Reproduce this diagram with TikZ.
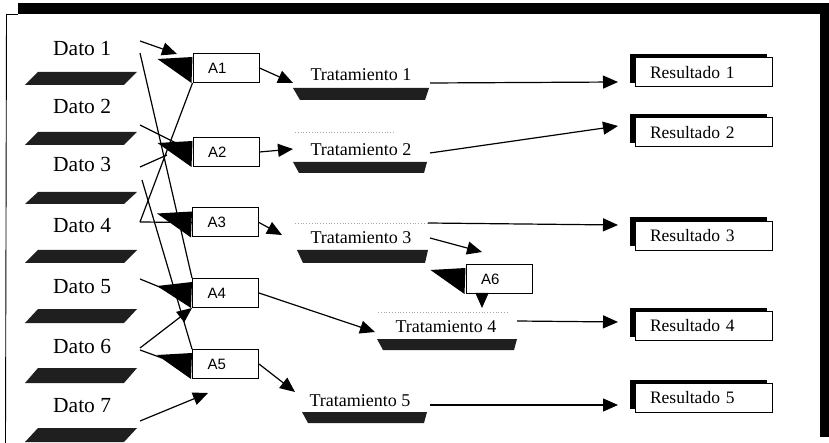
\documentclass[tikz,border=0pt]{standalone}
\usepackage{fontspec}
\setmainfont{Liberation Serif}
\newfontfamily\labelsans{Liberation Sans}
\usetikzlibrary{arrows.meta,shadows,calc,backgrounds}

\begin{document}
\begin{tikzpicture}[x=1pt,y=-1pt,
  datolbl/.style={anchor=west,inner sep=0pt,font=\fontsize{21.5}{23}\selectfont},
  tratlbl/.style={inner sep=1pt,font=\fontsize{18}{20}\selectfont},
  abox/.style={draw,line width=1pt,fill=white,minimum height=29pt,text width=36pt,
    inner xsep=15pt,inner ysep=0pt,align=left,font=\labelsans\fontsize{15}{16}\selectfont},
  resbox/.style={draw,line width=1pt,fill=white,minimum height=29pt,text width=107pt,
    inner xsep=15pt,inner ysep=0pt,align=left,font=\fontsize{17.5}{18}\selectfont,
    general shadow={fill=black,shadow xshift=-5pt,shadow yshift=4pt}},
  band/.style={fill=black!88},
  wire/.style={line width=1.2pt},
  arr/.style={line width=1.2pt,-{Triangle[length=15pt,width=13pt]}},
  faint/.style={gray!70,dotted,line width=0.8pt}
]
\useasboundingbox (0,0) rectangle (829,443);

% frame
\fill (18,3) rectangle (829,14);
\fill (820,3) rectangle (829,437);
\draw[line width=0.9pt] (7,14) -- (18,14);
\draw[line width=0.9pt] (6.5,14) -- (5.5,443);

% data labels and their caption bands
\foreach \i/\y in {1/49,2/106,3/164,4/226,5/287,6/346,7/406}
  \node[datolbl] (d\i) at (53,\y) {Dato \i};
\foreach \t/\b in {72/85,132/145,192/204,250/263,309/323,368/383,428/442}
  \fill[band] (25,\b) -- (38,\t) -- (137,\t) -- (124,\b) -- cycle;

% activity boxes
\node[abox] (a1) at (226,68) {A1};
\node[abox] (a2) at (226,152) {A2};
\node[abox] (a3) at (225.5,222.5) {A3};
\node[abox] (a4) at (225.5,293) {A4};
\node[abox] (a5) at (225.5,364) {A5};
\node[abox] (a6) at (499,279) {A6};

% callout tails on the left of the boxes
\begin{scope}[on background layer]
  \foreach \b/\d in {a1/6,a2/6,a3/6,a4/8,a5/6,a6/6}
    \fill ($(\b.north west)+(-35,\d)$) -- ($(\b.north west)+(0,4)$)
          -- ($(\b.south west)+(-1,0)$) -- cycle;
\end{scope}

% treatments
\node[tratlbl] (t1) at (361,75) {Tratamiento 1};
\node[tratlbl] (t2) at (361,150) {Tratamiento 2};
\node[tratlbl] (t3) at (361,238) {Tratamiento 3};
\node[tratlbl] (t4) at (446,327) {Tratamiento 4};
\node[tratlbl] (t5) at (360,401) {Tratamiento 5};
\fill[band] (293,88) -- (429,88) -- (425,100) -- (300,100) -- cycle;
\fill[band] (293,162) -- (427,162) -- (424,173) -- (299,173) -- cycle;
\fill[band] (297,250) -- (428,250) -- (425,263) -- (303,263) -- cycle;
\fill[band] (377,339) -- (517,339) -- (514,350) -- (383,350) -- cycle;
\fill[band] (302,412) -- (427,412) -- (424,423) -- (308,423) -- cycle;
\draw[faint] (295,132) -- (395,132);
\draw[faint] (295,223) -- (427,223);
\draw[faint] (378,312) -- (508,312);

% results
\node[resbox] (r1) at (703.5,72.5) {Resultado 1};
\node[resbox] (r2) at (703.5,132.5) {Resultado 2};
\node[resbox] (r3) at (703.5,236) {Resultado 3};
\node[resbox] (r4) at (703.5,326) {Resultado 4};
\node[resbox] (r5) at (703.5,398) {Resultado 5};

% connector end points
\coordinate (d1a) at (140,41);   \coordinate (a1in) at (177,54);
\coordinate (d1b) at (140,53);
\coordinate (d2a) at (140,125);  \coordinate (a2in) at (178,144);
\coordinate (d3a) at (140,167);  \coordinate (a2lo) at (167,155);
\coordinate (d3b) at (142,180);
\coordinate (d4a) at (140,222);
\coordinate (d5a) at (140,279);  \coordinate (a4in) at (162,288);
\coordinate (d6a) at (140,348);
\coordinate (d6b) at (140,350);  \coordinate (a5in) at (162,358);
\coordinate (d7a) at (140,421);  \coordinate (d7end) at (208,393);
\coordinate (t1in) at (293,83);
\coordinate (t2in) at (293,149);
\coordinate (t3in) at (282,235);
\coordinate (t4in) at (375,332);
\coordinate (t5in) at (295,392);
\coordinate (t1out) at (430,83);  \coordinate (r1in) at (618,82);
\coordinate (t2out) at (430,153); \coordinate (r2in) at (618,126);
\coordinate (t3out) at (428,223); \coordinate (r3in) at (618,225);
\coordinate (t4out) at (517,321); \coordinate (r4in) at (618,322);
\coordinate (t5out) at (430,405); \coordinate (r5in) at (618,405);
\coordinate (t3dn) at (430,238);  \coordinate (a6top) at (482,252);
\coordinate (a6foot) at (482,293); \coordinate (t4top) at (482,308);

% data to activities
\draw[arr] (d1a) -- (a1in);
\draw[wire] (d1b) -- (a4.north west);
\draw[wire] (d2a) -- (a2in);
\draw[wire] (d3a) -- (a2lo);
\draw[wire] (d3b) -- (a5.north west);
\draw[wire] (d4a) -- (a1.south west);
\draw[wire] (d4a) -- (a3.west);
\draw[wire] (d5a) -- (a4in);
\draw[arr] (d6a) -- (a4.south west);
\draw[wire] (d6b) -- (a5in);
\draw[arr] (d7a) -- (d7end);

% activities to treatments
\draw[arr] (a1.east) -- (t1in);
\draw[arr] (a2.east) -- (t2in);
\draw[arr] (a3.east) -- (t3in);
\draw[arr] (a4.east) -- (t4in);
\draw[arr] (a5.east) -- (t5in);
\draw[arr] (t3dn) -- (a6top);
\draw[arr] (a6foot) -- (t4top);

% treatments to results
\draw[arr] (t1out) -- (r1in);
\draw[arr] (t2out) -- (r2in);
\draw[arr] (t3out) -- (r3in);
\draw[arr] (t4out) -- (r4in);
\draw[arr] (t5out) -- (r5in);
\end{tikzpicture}
\end{document}
